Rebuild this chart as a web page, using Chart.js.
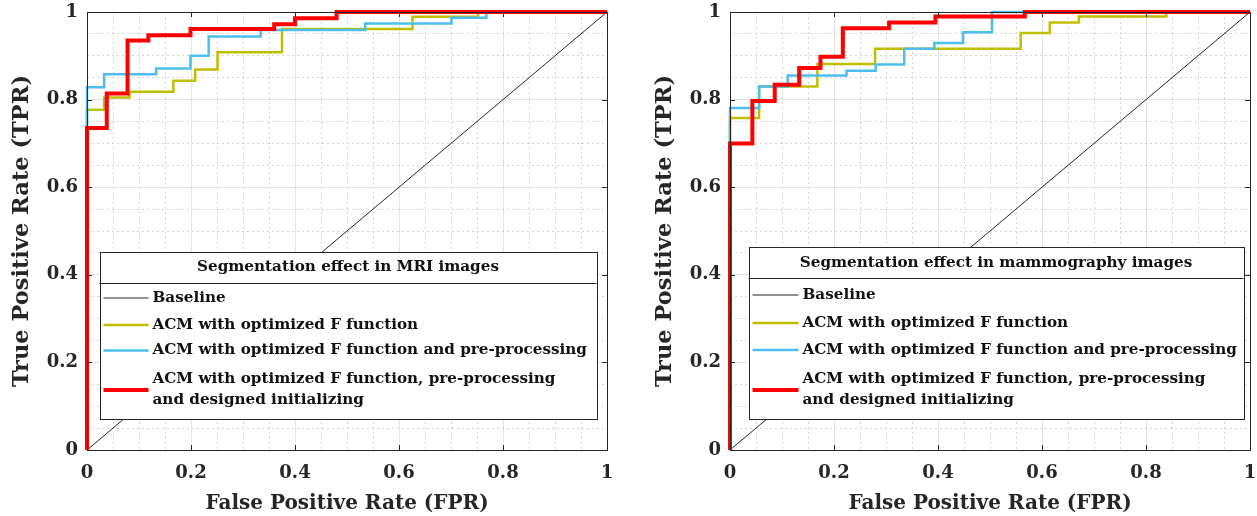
<!DOCTYPE html>
<html>
<head>
<meta charset="utf-8">
<script src="https://cdn.jsdelivr.net/npm/chart.js@4.4.1/dist/chart.umd.min.js"></script>
<style>
body{margin:0;background:#fff;width:1257px;height:516px;overflow:hidden;position:relative}
canvas{position:absolute;top:0}
#mri{left:0}
#mam{left:643px}
</style>
</head>
<body>
<canvas id="mri" width="620" height="516"></canvas>
<canvas id="mam" width="614" height="516"></canvas>
<script>

// tick labels
const tickValues = [0, 0.2, 0.4, 0.6, 0.8, 1];

// legend texts
const legendNames = [
  ["Baseline"],
  ["ACM with optimized F function"],
  ["ACM with optimized F function and pre-processing"],
  ["ACM with optimized F function, pre-processing", "and designed initializing"]
];

// baseline
const baseFpr = [0, 1];
const baseTpr = [0, 1];

// MRI images
const mriYellowFpr = [0, 0, 0.033, 0.082, 0.166, 0.208, 0.251, 0.375, 0.626, 0.752, 1];
const mriYellowTpr = [0, 0.777, 0.805, 0.818, 0.843, 0.869, 0.908, 0.961, 0.989, 1, 1];

const mriBlueFpr = [0, 0, 0.033, 0.133, 0.199, 0.234, 0.334, 0.535, 0.701, 0.768, 1];
const mriBlueTpr = [0, 0.828, 0.858, 0.871, 0.9, 0.944, 0.959, 0.974, 0.987, 1, 1];

const mriRedFpr = [0, 0, 0.038, 0.078, 0.118, 0.199, 0.36, 0.40, 0.48, 1];
const mriRedTpr = [0, 0.735, 0.814, 0.935, 0.947, 0.961, 0.972, 0.986, 1, 1];

// mammography images
const mamYellowFpr = [0, 0, 0.056, 0.168, 0.279, 0.559, 0.615, 0.671, 0.839, 1];
const mamYellowTpr = [0, 0.758, 0.83, 0.881, 0.916, 0.952, 0.976, 0.99, 1, 1];

const mamBlueFpr = [0, 0, 0.056, 0.111, 0.224, 0.28, 0.335, 0.393, 0.448, 0.504, 1];
const mamBlueTpr = [0, 0.781, 0.83, 0.855, 0.866, 0.88, 0.916, 0.929, 0.954, 1, 1];

const mamRedFpr = [0, 0, 0.043, 0.086, 0.133, 0.174, 0.217, 0.306, 0.395, 0.567, 1];
const mamRedTpr = [0, 0.70, 0.797, 0.834, 0.872, 0.898, 0.963, 0.976, 0.99, 1, 1];


const FONT = "'DejaVu Serif', serif";
const TXT = "#262626";

function pts(xs, ys){
  return xs.map((x, i) => ({x: x, y: ys[i]}));
}

function fmt(v){
  const r = Math.round(v * 10) / 10;
  return tickValues.includes(r) && Math.abs(r - v) < 1e-6 ? String(r) : "";
}

function isMajor(v){
  return Math.abs(v * 5 - Math.round(v * 5)) < 1e-6;
}


// box round the plot + inward ticks
const boxPlugin = {
  id: "box",
  afterDatasetsDraw(chart){
    const {ctx, chartArea: a, scales} = chart;
    ctx.save();
    ctx.strokeStyle = TXT;
    ctx.lineWidth = 1;
    ctx.strokeRect(Math.round(a.left) + 0.5, Math.round(a.top) + 0.5,
      Math.round(a.right - a.left), Math.round(a.bottom - a.top));
    ctx.beginPath();
    tickValues.forEach(v => {
      const px = Math.round(scales.x.getPixelForValue(v)) + 0.5;
      const py = Math.round(scales.y.getPixelForValue(v)) + 0.5;
      ctx.moveTo(px, a.bottom); ctx.lineTo(px, a.bottom - 5);
      ctx.moveTo(px, a.top); ctx.lineTo(px, a.top + 5);
      ctx.moveTo(a.left, py); ctx.lineTo(a.left + 5, py);
      ctx.moveTo(a.right, py); ctx.lineTo(a.right - 5, py);
    });
    ctx.stroke();
    ctx.restore();
  }
};


// legend box with a title row
const legendPlugin = {
  id: "rocLegend",
  afterDraw(chart, args, o){
    const {ctx, chartArea: a} = chart;
    const L = a.left + o.left, T = o.top, W = o.width, H = o.height;
    ctx.save();
    ctx.fillStyle = "#fff";
    ctx.fillRect(L, T, W, H);
    ctx.strokeStyle = TXT;
    ctx.lineWidth = 1;
    ctx.strokeRect(Math.round(L) + 0.5, Math.round(T) + 0.5, W, H);
    ctx.beginPath();
    ctx.moveTo(L, Math.round(o.sep) + 0.5);
    ctx.lineTo(L + W, Math.round(o.sep) + 0.5);
    ctx.stroke();

    ctx.fillStyle = "#111";
    ctx.textBaseline = "middle";
    ctx.font = "bold 15.2px " + FONT;
    ctx.textAlign = "center";
    ctx.fillText(o.title, L + W / 2, o.titleY);

    ctx.textAlign = "left";
    const ds = chart.data.datasets;
    o.rows.forEach((y, i) => {
      const d = ds[i];
      ctx.strokeStyle = d.borderColor;
      ctx.lineWidth = d.borderWidth;
      ctx.beginPath();
      ctx.moveTo(L + o.lineFrom, y);
      ctx.lineTo(L + o.lineTo, y);
      ctx.stroke();
      const lines = legendNames[i];
      lines.forEach((t, k) => {
        const ty = y + (k - (lines.length - 1) / 2) * 21;
        ctx.fillText(t, L + o.textX, ty);
      });
    });
    ctx.restore();
  }
};


function drawRoc(id, yellow, blue, red, padRight, leg){

  const line = (label, data, color, width, order) => ({
    label: label,
    data: data,
    borderColor: color,
    backgroundColor: color,
    borderWidth: width,
    pointRadius: 0,
    stepped: "before",
    fill: false,
    clip: false,
    order: order
  });

  new Chart(document.getElementById(id), {
    type: "line",
    data: {
      datasets: [
        Object.assign(line("Baseline", pts(baseFpr, baseTpr), "#262626", 1, 3), {stepped: false}),
        line("ACM with optimized F function", pts(yellow[0], yellow[1]), "#BFBF00", 2.5, 2),
        line("ACM with optimized F function and pre-processing", pts(blue[0], blue[1]), "#4DBEEE", 2.5, 1),
        line("ACM with optimized F function, pre-processing and designed initializing", pts(red[0], red[1]), "#FF0000", 4, 0)
      ]
    },
    options: {
      responsive: false,
      animation: false,
      devicePixelRatio: 1,
      events: [],
      layout: {autoPadding: false, padding: {left: 0, right: padRight, top: 12, bottom: 0}},
      plugins: {
        legend: {display: false},
        tooltip: {enabled: false},
        rocLegend: leg
      },
      scales: {
        x: {
          type: "linear", position: "bottom", min: 0, max: 1,
          ticks: {stepSize: 0.2, callback: fmt, color: TXT, padding: 13, maxRotation: 0, autoSkip: false,
                  font: {family: FONT, size: 18, weight: "bold"}},
          grid: {color: "#e4e4e4", drawTicks: false},
          border: {display: false},
          title: {display: true, text: "False Positive Rate (FPR)", color: TXT,
                  font: {family: FONT, size: 20, weight: "bold", lineHeight: 1.2},
                  padding: {top: 0, bottom: 0}},
          afterFit: s => { s.height = 66; s.paddingLeft = 0; s.paddingRight = 0; }
        },
        xm: {
          type: "linear", position: "bottom", min: 0, max: 1,
          ticks: {stepSize: 0.05, display: false},
          grid: {drawTicks: false, color: c => isMajor(c.tick.value) ? "rgba(0,0,0,0)" : "#d4d4d4"},
          border: {display: false, dash: [2, 3]},
          afterFit: s => { s.height = 0; s.paddingLeft = 0; s.paddingRight = 0; }
        },
        y: {
          type: "linear", position: "left", min: 0, max: 1,
          ticks: {stepSize: 0.2, callback: fmt, color: TXT, padding: 9,
                  font: {family: FONT, size: 18, weight: "bold"}},
          grid: {color: "#e4e4e4", drawTicks: false},
          border: {display: false},
          title: {display: true, text: "True Positive Rate (TPR)", color: TXT,
                  font: {family: FONT, size: 22.5, weight: "bold", lineHeight: 1.2},
                  padding: {top: 9, bottom: 0}},
          afterFit: s => { s.width = 87; s.paddingTop = 0; s.paddingBottom = 0; }
        },
        ym: {
          type: "linear", position: "left", min: 0, max: 1,
          ticks: {stepSize: 0.05, display: false},
          grid: {drawTicks: false, color: c => isMajor(c.tick.value) ? "rgba(0,0,0,0)" : "#d4d4d4"},
          border: {display: false, dash: [2, 3]},
          afterFit: s => { s.width = 0; s.paddingTop = 0; s.paddingBottom = 0; }
        }
      }
    },
    plugins: [boxPlugin, legendPlugin]
  });
}


drawRoc("mri",
  [mriYellowFpr, mriYellowTpr], [mriBlueFpr, mriBlueTpr], [mriRedFpr, mriRedTpr], 13,
  {title: "Segmentation effect in MRI images", left: 12.5, top: 252, width: 497, height: 167,
   sep: 283, titleY: 267, rows: [298, 325, 350.5, 390], lineFrom: 4, lineTo: 49, textX: 53});

drawRoc("mam",
  [mamYellowFpr, mamYellowTpr], [mamBlueFpr, mamBlueTpr], [mamRedFpr, mamRedTpr], 7,
  {title: "Segmentation effect in mammography images", left: 18.5, top: 247, width: 495, height: 172,
   sep: 278, titleY: 263, rows: [295, 323, 350, 390], lineFrom: 4, lineTo: 50, textX: 54});

</script>
</body>
</html>
